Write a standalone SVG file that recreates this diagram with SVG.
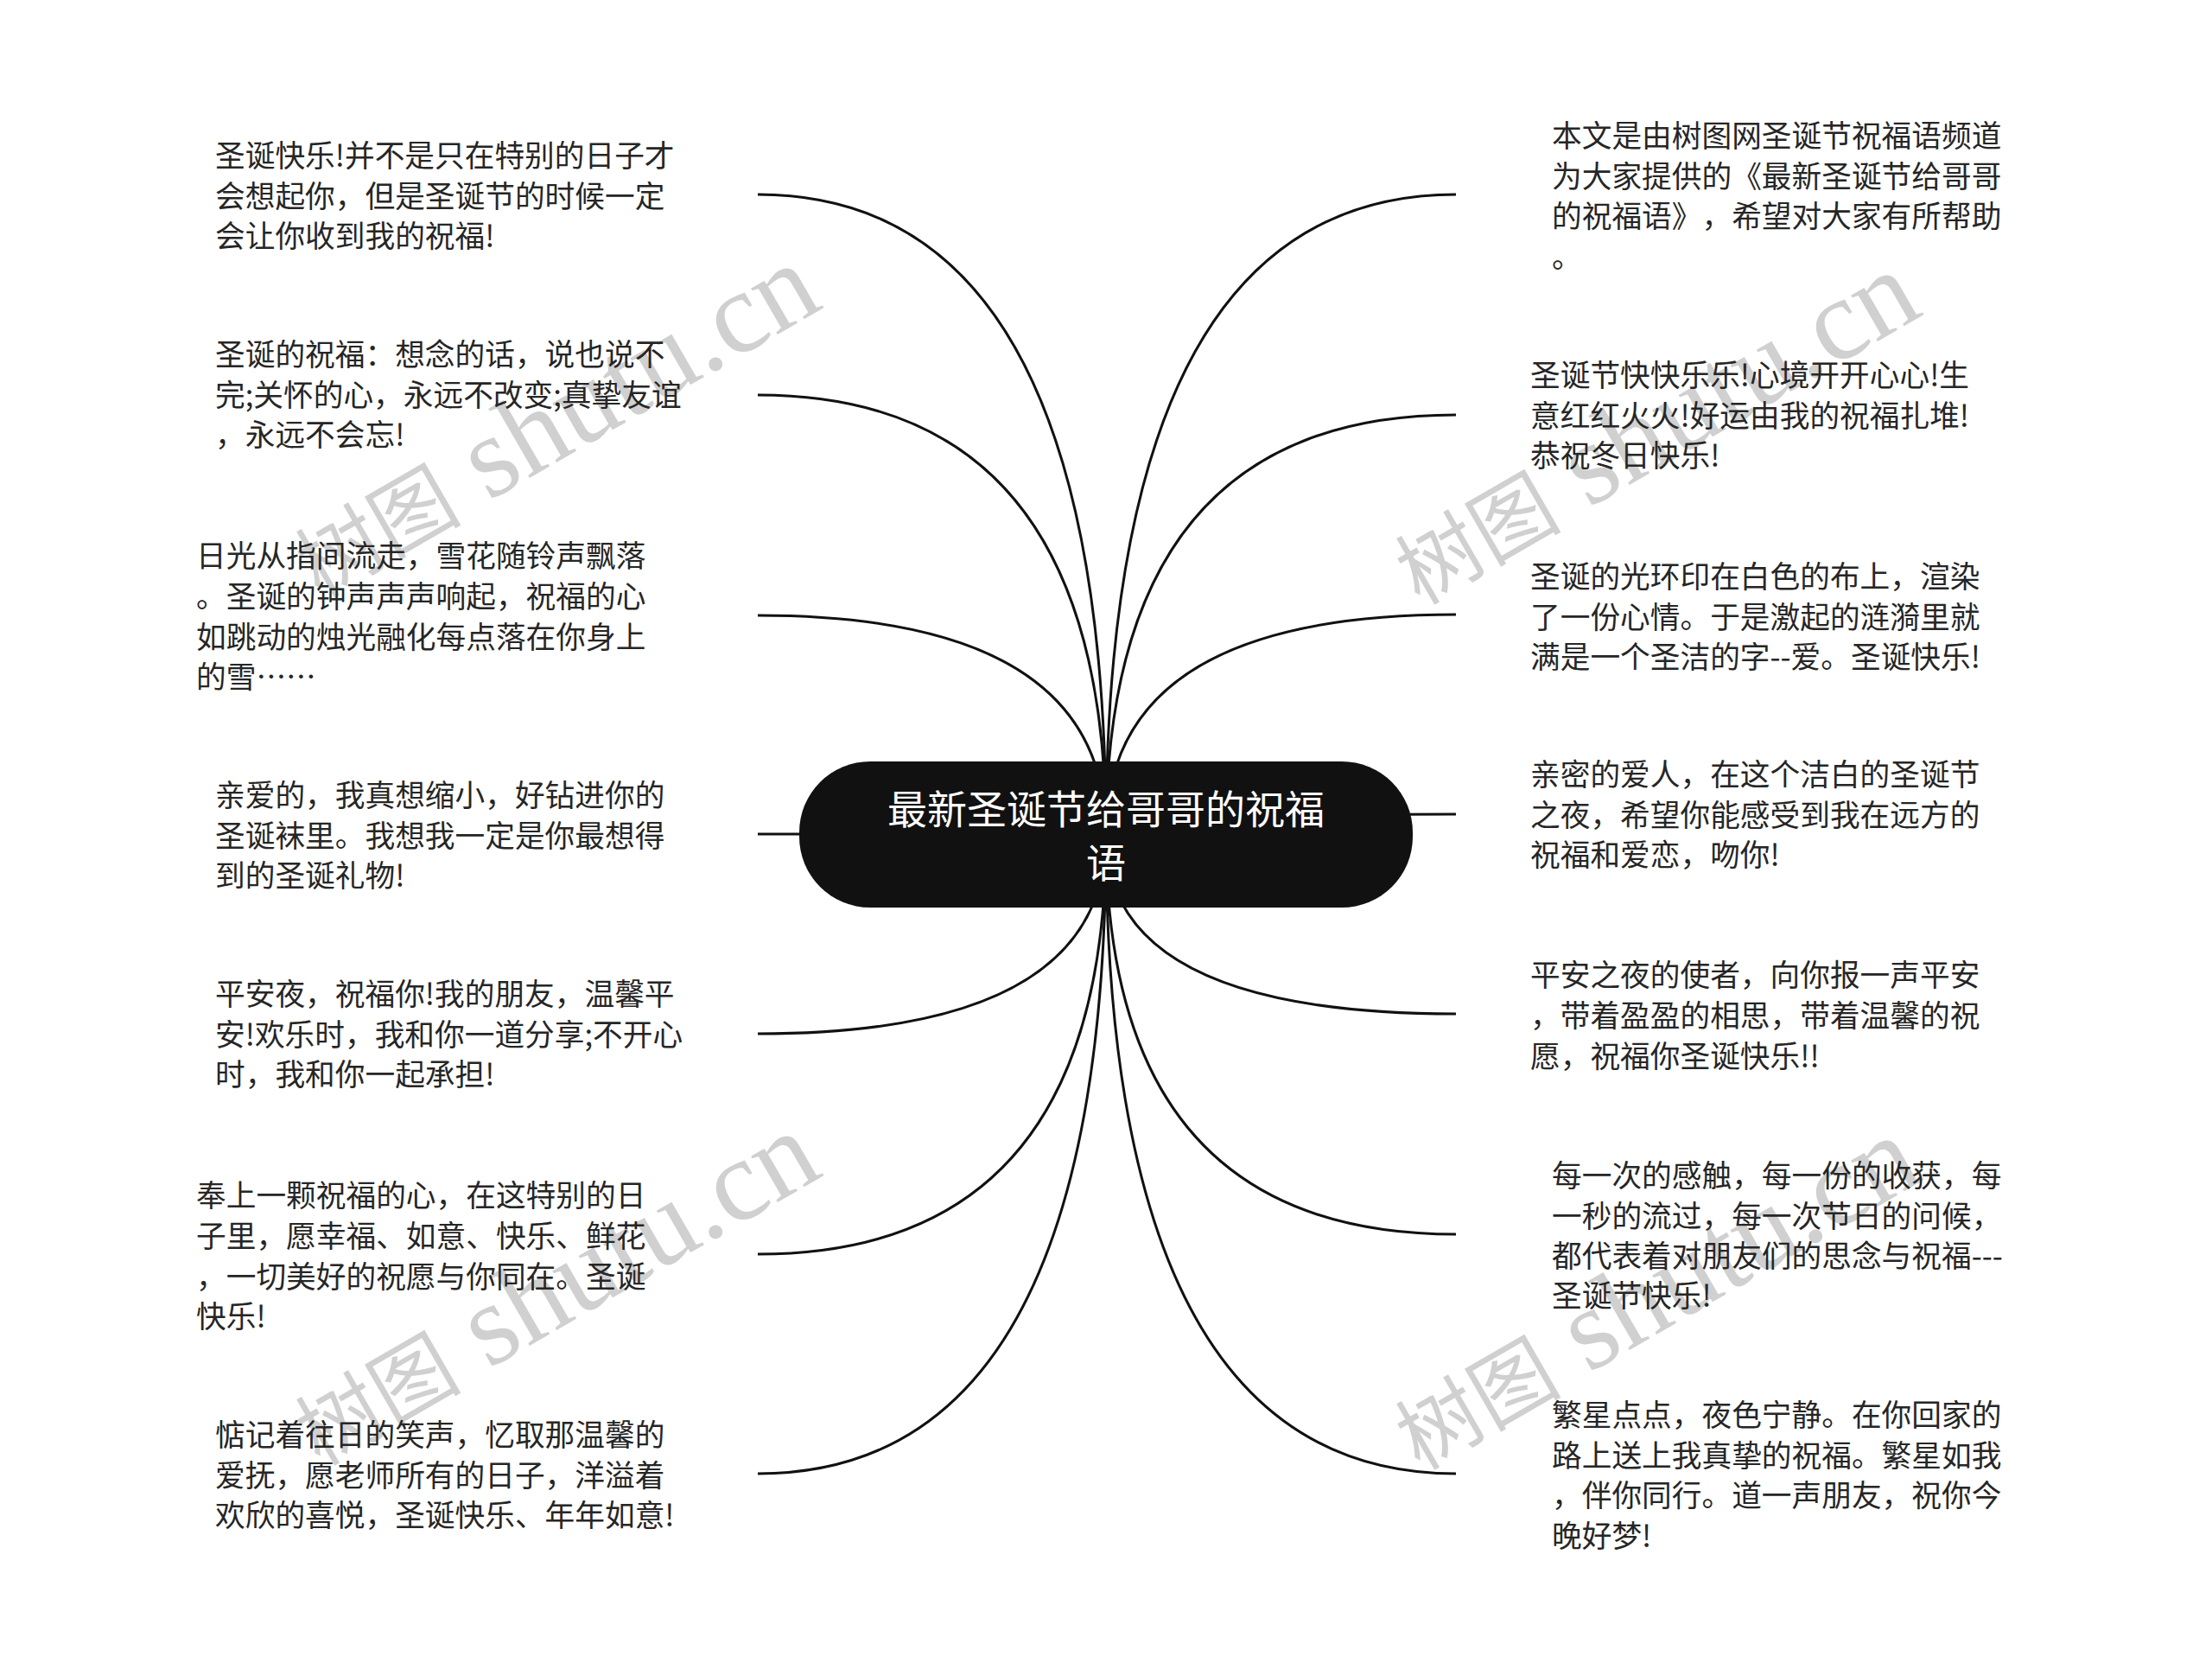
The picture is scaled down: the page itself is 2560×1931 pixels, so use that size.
<svg xmlns="http://www.w3.org/2000/svg" width="2560" height="1931" viewBox="0 0 2560 1931">
<style>
.bg{fill:#ffffff}
.wm{fill:#d0d0d0;font-family:"Liberation Serif","Noto Sans CJK SC",serif}
.wmc{font-size:96px}
.wml{font-size:134px}
.conn{fill:none;stroke:#111111;stroke-width:3}
.root{fill:#111111}
.title{font-family:"Noto Sans CJK SC","Noto Sans",sans-serif;font-size:46px;fill:#ffffff;text-anchor:middle;text-spacing-trim:space-all}
.txt{font-family:"Noto Sans CJK SC","Noto Sans",sans-serif;font-size:34.7px;fill:#262626;text-spacing-trim:space-all}
</style>
<rect class="bg" x="0" y="0" width="2560" height="1931"/>
<g id="watermarks">
<text class="wm" transform="translate(370,693) rotate(-30)"><tspan class="wmc">树图</tspan><tspan class="wml"> shutu.cn</tspan></text>
<text class="wm" transform="translate(1643,701) rotate(-30)"><tspan class="wmc">树图</tspan><tspan class="wml"> shutu.cn</tspan></text>
<text class="wm" transform="translate(370,1697) rotate(-30)"><tspan class="wmc">树图</tspan><tspan class="wml"> shutu.cn</tspan></text>
<text class="wm" transform="translate(1643,1702) rotate(-30)"><tspan class="wmc">树图</tspan><tspan class="wml"> shutu.cn</tspan></text>
</g>
<g id="connectors">
<path class="conn" d="M1280 966 Q1280 225 877 225"/>
<path class="conn" d="M1280 966 Q1280 457 877 457"/>
<path class="conn" d="M1280 966 Q1280 712 877 712"/>
<path class="conn" d="M1280 966 Q1280 965 877 965"/>
<path class="conn" d="M1280 966 Q1280 1196 877 1196"/>
<path class="conn" d="M1280 966 Q1280 1451 877 1451"/>
<path class="conn" d="M1280 966 Q1280 1705 877 1705"/>
<path class="conn" d="M1280 966 Q1280 225 1685 225"/>
<path class="conn" d="M1280 966 Q1280 480 1685 480"/>
<path class="conn" d="M1280 966 Q1280 711 1685 711"/>
<path class="conn" d="M1280 966 Q1280 942 1685 942"/>
<path class="conn" d="M1280 966 Q1280 1173 1685 1173"/>
<path class="conn" d="M1280 966 Q1280 1428 1685 1428"/>
<path class="conn" d="M1280 966 Q1280 1705 1685 1705"/>
</g>
<g id="root">
<rect class="root" x="925" y="881" width="710" height="169" rx="82" ry="82"/>
<text class="title"><tspan x="1280" y="952.5">最新圣诞节给哥哥的祝福</tspan><tspan x="1280" y="1014.5">语</tspan></text>
</g>
<g id="node-l1">
<text class="txt"><tspan x="249" y="193">圣诞快乐!并不是只在特别的日子才</tspan><tspan x="249" y="240">会想起你，但是圣诞节的时候一定</tspan><tspan x="249" y="286">会让你收到我的祝福!</tspan></text>
</g>
<g id="node-l2">
<text class="txt"><tspan x="249" y="423">圣诞的祝福：想念的话，说也说不</tspan><tspan x="249" y="470">完;关怀的心，永远不改变;真挚友谊</tspan><tspan x="249" y="516">，永远不会忘!</tspan></text>
</g>
<g id="node-l3">
<text class="txt"><tspan x="227" y="656">日光从指间流走，雪花随铃声飘落</tspan><tspan x="227" y="703">。圣诞的钟声声声响起，祝福的心</tspan><tspan x="227" y="749.5">如跳动的烛光融化每点落在你身上</tspan><tspan x="227" y="796">的雪……</tspan></text>
</g>
<g id="node-l4">
<text class="txt"><tspan x="249" y="933">亲爱的，我真想缩小，好钻进你的</tspan><tspan x="249" y="980">圣诞袜里。我想我一定是你最想得</tspan><tspan x="249" y="1026">到的圣诞礼物!</tspan></text>
</g>
<g id="node-l5">
<text class="txt"><tspan x="249" y="1163">平安夜，祝福你!我的朋友，温馨平</tspan><tspan x="249" y="1210">安!欢乐时，我和你一道分享;不开心</tspan><tspan x="249" y="1256">时，我和你一起承担!</tspan></text>
</g>
<g id="node-l6">
<text class="txt"><tspan x="227" y="1396">奉上一颗祝福的心，在这特别的日</tspan><tspan x="227" y="1443">子里，愿幸福、如意、快乐、鲜花</tspan><tspan x="227" y="1490">，一切美好的祝愿与你同在。圣诞</tspan><tspan x="227" y="1536">快乐!</tspan></text>
</g>
<g id="node-l7">
<text class="txt"><tspan x="249" y="1673">惦记着往日的笑声，忆取那温馨的</tspan><tspan x="249" y="1720">爱抚，愿老师所有的日子，洋溢着</tspan><tspan x="249" y="1766">欢欣的喜悦，圣诞快乐、年年如意!</tspan></text>
</g>
<g id="node-r1">
<text class="txt"><tspan x="1796" y="170">本文是由树图网圣诞节祝福语频道</tspan><tspan x="1796" y="216.5">为大家提供的《最新圣诞节给哥哥</tspan><tspan x="1796" y="263">的祝福语》，希望对大家有所帮助</tspan><tspan x="1796" y="309.5">。</tspan></text>
</g>
<g id="node-r2">
<text class="txt"><tspan x="1771" y="447">圣诞节快快乐乐!心境开开心心!生</tspan><tspan x="1771" y="493.5">意红红火火!好运由我的祝福扎堆!</tspan><tspan x="1771" y="540">恭祝冬日快乐!</tspan></text>
</g>
<g id="node-r3">
<text class="txt"><tspan x="1771" y="680">圣诞的光环印在白色的布上，渲染</tspan><tspan x="1771" y="726.5">了一份心情。于是激起的涟漪里就</tspan><tspan x="1771" y="773">满是一个圣洁的字--爱。圣诞快乐!</tspan></text>
</g>
<g id="node-r4">
<text class="txt"><tspan x="1771" y="909">亲密的爱人，在这个洁白的圣诞节</tspan><tspan x="1771" y="955.5">之夜，希望你能感受到我在远方的</tspan><tspan x="1771" y="1002">祝福和爱恋，吻你!</tspan></text>
</g>
<g id="node-r5">
<text class="txt"><tspan x="1771" y="1141">平安之夜的使者，向你报一声平安</tspan><tspan x="1771" y="1188">，带着盈盈的相思，带着温馨的祝</tspan><tspan x="1771" y="1234.5">愿，祝福你圣诞快乐!!</tspan></text>
</g>
<g id="node-r6">
<text class="txt"><tspan x="1796" y="1373">每一次的感触，每一份的收获，每</tspan><tspan x="1796" y="1420">一秒的流过，每一次节日的问候，</tspan><tspan x="1796" y="1466">都代表着对朋友们的思念与祝福---</tspan><tspan x="1796" y="1512">圣诞节快乐!</tspan></text>
</g>
<g id="node-r7">
<text class="txt"><tspan x="1796" y="1650">繁星点点，夜色宁静。在你回家的</tspan><tspan x="1796" y="1696.5">路上送上我真挚的祝福。繁星如我</tspan><tspan x="1796" y="1743">，伴你同行。道一声朋友，祝你今</tspan><tspan x="1796" y="1789.5">晚好梦!</tspan></text>
</g>
</svg>
